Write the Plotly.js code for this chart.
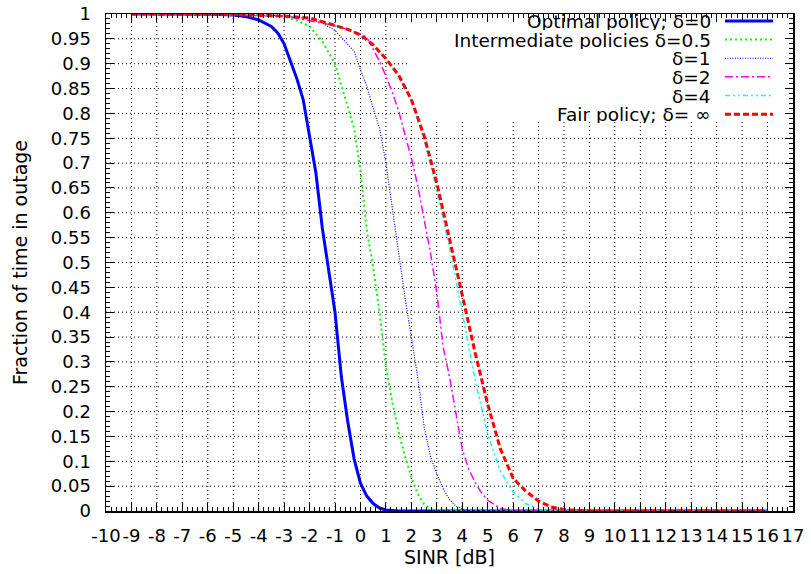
<!DOCTYPE html>
<html>
<head>
<meta charset="utf-8">
<script src="https://cdn.plot.ly/plotly-3.0.1.min.js"></script>
<style>html,body{margin:0;padding:0;background:#fff}#chart{width:811px;height:574px}</style>
</head>
<body>
<div id="chart"></div>
<script>
// ---- data ----
const seriesNames = ["Optimal policy; δ=0", "Intermediate policies δ=0.5", "δ=1", "δ=2", "δ=4", "Fair policy; δ= ∞"];

const x_d0 = [-9,-6,-5,-4.5,-4,-3.5,-3.25,-3,-2.75,-2.5,-2.25,-2,-1.75,-1.5,-1.25,-1,-0.75,-0.5,-0.25,0,0.25,0.5,0.75,1,1.5,16];
const y_d0 = [1,1,0.998,0.995,0.988,0.975,0.962,0.94,0.905,0.87,0.828,0.75,0.68,0.57,0.48,0.40,0.27,0.18,0.105,0.056,0.03,0.015,0.006,0.002,0,0];

const x_d05 = [-9,-4,-3,-2.5,-2,-1.5,-1,-0.5,-0.25,0,0.25,0.5,0.75,1,1.25,1.5,1.75,2,2.25,2.5,2.75,3,16];
const y_d05 = [1,0.999,0.995,0.987,0.975,0.945,0.9,0.81,0.77,0.685,0.565,0.49,0.40,0.29,0.22,0.16,0.11,0.068,0.035,0.014,0.004,0,0];

const x_d1 = [-9,-3,-2,-1.5,-1,-0.5,-0.25,0,0.25,0.5,0.75,1,1.25,1.5,1.75,2,2.25,2.5,2.75,3,3.25,3.5,3.75,4,4.3,16];
const y_d1 = [1,0.997,0.99,0.982,0.967,0.94,0.925,0.888,0.855,0.81,0.77,0.70,0.61,0.51,0.43,0.35,0.27,0.17,0.11,0.075,0.045,0.023,0.01,0.004,0,0];

const x_d2 = [-9,-3,-1,0,0.25,0.5,0.75,1,1.25,1.5,1.75,2,2.25,2.5,2.75,3,3.25,3.5,3.75,4,4.25,4.5,4.75,5,5.5,6,16];
const y_d2 = [1,0.996,0.977,0.96,0.953,0.93,0.905,0.875,0.843,0.805,0.76,0.71,0.655,0.59,0.52,0.44,0.33,0.27,0.2,0.125,0.085,0.058,0.037,0.022,0.005,0,0];

const x_d4 = [-9,-5,-3,-2,-1,-0.5,0,0.5,1,1.5,2,2.5,3,3.5,4,4.5,5,5.5,6,6.5,7,7.5,16];
const y_d4 = [1,0.999,0.996,0.992,0.977,0.969,0.958,0.938,0.91,0.876,0.825,0.748,0.645,0.53,0.40,0.265,0.155,0.08,0.038,0.015,0.004,0,0];

const x_dinf = [-9,-5,-3,-2,-1,-0.5,0,0.5,1,1.5,2,2.5,3,3.5,4,4.5,5,5.5,6,6.5,7,7.5,8,8.5,9,16];
const y_dinf = [1,0.999,0.996,0.992,0.977,0.969,0.958,0.938,0.91,0.877,0.828,0.755,0.66,0.55,0.435,0.32,0.215,0.125,0.066,0.04,0.02,0.008,0.003,0.001,0,0];

const xTickVals = [-10,-9,-8,-7,-6,-5,-4,-3,-2,-1,0,1,2,3,4,5,6,7,8,9,10,11,12,13,14,15,16,17];
const xTickText = ["-10","-9","-8","-7","-6","-5","-4","-3","-2","-1","0","1","2","3","4","5","6","7","8","9","10","11","12","13","14","15","16","17"];
const yTickVals = [0,0.05,0.1,0.15,0.2,0.25,0.3,0.35,0.4,0.45,0.5,0.55,0.6,0.65,0.7,0.75,0.8,0.85,0.9,0.95,1];
const yTickText = ["0","0.05","0.1","0.15","0.2","0.25","0.3","0.35","0.4","0.45","0.5","0.55","0.6","0.65","0.7","0.75","0.8","0.85","0.9","0.95","1"];

// ---- styles ----
const styles = [
  {color:'#0000ff', width:3, dash:'solid'},
  {color:'#00ff00', width:2, dash:'2px,3px'},
  {color:'#0000ff', width:1.2, dash:'1px,1.5px'},
  {color:'#ff00ff', width:1.5, dash:'8px,3px,2px,3px'},
  {color:'#00ffff', width:1.5, dash:'5px,3px,2px,3px,2px,3px'},
  {color:'#ff0000', width:3, dash:'6px,3px'}
];
const xs = [x_d0, x_d05, x_d1, x_d2, x_d4, x_dinf];
const ys = [y_d0, y_d05, y_d1, y_d2, y_d4, y_dinf];

const traces = xs.map((x,i)=>({
  x:x, y:ys[i], type:'scatter', mode:'lines', name:seriesNames[i],
  line:{color:styles[i].color, width:styles[i].width, dash:styles[i].dash},
  showlegend:false
}));

const FONT = 'DejaVu Sans, Verdana, sans-serif';
const FS = 18, FS_TITLE = 19, FS_KEY = 18.5;
const xMin = -10, xMax = 17, yMin = 0, yMax = 1;

// key box region (grid is not drawn behind the key)
const keyLeftX = 1.95, keyBottomY = 0.783;

const shapes = [];
// grid lines (dotted), clipped around the key
xTickVals.forEach(v=>{
  if (v <= xMin || v >= xMax) return;
  const top = v > keyLeftX ? keyBottomY : yMax;
  shapes.push({type:'line', xref:'x', yref:'y', x0:v, x1:v, y0:yMin, y1:top,
    line:{color:'#000', width:1, dash:'1px,3px'}, layer:'below'});
});
yTickVals.forEach(v=>{
  if (v <= yMin || v >= yMax) return;
  const right = v > keyBottomY ? keyLeftX : xMax;
  shapes.push({type:'line', xref:'x', yref:'y', x0:xMin, x1:right, y0:v, y1:v,
    line:{color:'#000', width:1, dash:'1px,3px'}, layer:'below'});
});

// custom legend (text right-aligned, sample on the right)
const legTop = 0.986, legStep = 0.0375;
const annotations = [];
seriesNames.forEach((nm,i)=>{
  const yy = legTop - i*legStep;
  annotations.push({xref:'paper', yref:'paper', x:0.882, y:yy, xanchor:'right', yanchor:'middle',
    text:nm, showarrow:false, borderpad:0, height:18, valign:'middle',
    font:{family:FONT, size:FS_KEY, color:'#000'}});
  shapes.push({type:'line', xref:'paper', yref:'paper', x0:0.901, x1:0.971, y0:yy, y1:yy,
    line:{color:styles[i].color, width:styles[i].width, dash:styles[i].dash}, layer:'above'});
});

const layout = {
  width:811, height:574,
  margin:{l:106, r:18, t:14, b:63},
  paper_bgcolor:'#fff', plot_bgcolor:'rgba(0,0,0,0)',
  font:{family:FONT, size:FS, color:'#000'},
  xaxis:{
    range:[xMin,xMax], tickmode:'array', tickvals:xTickVals, ticktext:xTickText,
    tickangle:0, ticklabelstandoff:8,
    ticks:'inside', ticklen:8, tickcolor:'#000', tickwidth:1,
    showline:true, linecolor:'#000', linewidth:1.5, mirror:'allticks',
    showgrid:false, zeroline:false,
    minor:{dtick:0.2, tick0:0, ticks:'inside', ticklen:4, tickcolor:'#000', showgrid:false},
    tickfont:{family:FONT, size:FS, color:'#000'},
    title:{text:'SINR [dB]', font:{family:FONT, size:FS_TITLE, color:'#000'}, standoff:2}
  },
  yaxis:{
    range:[yMin,yMax], tickmode:'array', tickvals:yTickVals, ticktext:yTickText,
    ticks:'inside', ticklen:8, tickcolor:'#000', tickwidth:1,
    showline:true, linecolor:'#000', linewidth:1.5, mirror:'allticks',
    showgrid:false, zeroline:false,
    ticklabelstandoff:10,
    minor:{dtick:0.01, tick0:0, ticks:'inside', ticklen:4, tickcolor:'#000', showgrid:false},
    tickfont:{family:FONT, size:FS, color:'#000'},
    title:{text:'Fraction of time in outage', font:{family:FONT, size:FS_TITLE, color:'#000'}, standoff:18}
  },
  shapes:shapes,
  annotations:annotations,
  showlegend:false
};

Plotly.newPlot('chart', traces, layout, {staticPlot:true, displayModeBar:false});
</script>
</body>
</html>
